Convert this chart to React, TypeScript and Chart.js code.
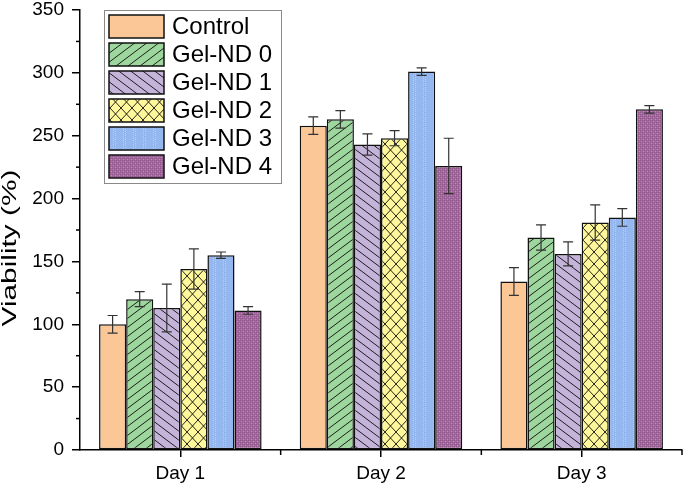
import React, { useEffect, useRef } from "react";
import { Chart, registerables } from "chart.js";

Chart.register(...registerables);

const categories = ["Day 1", "Day 2", "Day 3"];
const seriesNames = ["Control", "Gel-ND 0", "Gel-ND 1", "Gel-ND 2", "Gel-ND 3", "Gel-ND 4"];
const yAxisTitle = "Viability (%)";
const controlValues = [100, 258, 134];
const controlErr = [7, 7, 11];
const gel0Values = [120, 263, 169];
const gel0Err = [6, 7, 10];
const gel1Values = [113, 243, 156];
const gel1Err = [19, 8.5, 9.5];
const gel2Values = [144, 248, 181];
const gel2Err = [16, 6, 14];
const gel3Values = [155, 301, 185];
const gel3Err = [2.5, 3, 7];
const gel4Values = [111, 226, 271];
const gel4Err = [3, 22, 3];

const allValues = [controlValues, gel0Values, gel1Values, gel2Values, gel3Values, gel4Values];
const allErrors = [controlErr, gel0Err, gel1Err, gel2Err, gel3Err, gel4Err];

const FONT = "'Liberation Sans', Arial, sans-serif";

function makePattern(ctx: CanvasRenderingContext2D, w: number, h: number, draw: (g: CanvasRenderingContext2D, w: number, h: number) => void) {
  const c = document.createElement("canvas");
  c.width = w;
  c.height = h;
  const g = c.getContext("2d") as CanvasRenderingContext2D;
  draw(g, w, h);
  return ctx.createPattern(c, "repeat") as CanvasPattern;
}

function buildFills(ctx: CanvasRenderingContext2D) {
  const control = "#FBC797";
  const green = makePattern(ctx, 12, 9, (g, w, h) => {
    g.fillStyle = "#9DD79E";
    g.fillRect(0, 0, w, h);
    g.strokeStyle = "rgba(0,0,0,0.85)";
    g.lineWidth = 1;
    for (let k = -1; k <= 1; k++) {
      g.beginPath();
      g.moveTo(0, h + k * h);
      g.lineTo(w, k * h);
      g.stroke();
    }
  });
  const lav = makePattern(ctx, 12, 9, (g, w, h) => {
    g.fillStyle = "#C5B4DA";
    g.fillRect(0, 0, w, h);
    g.strokeStyle = "rgba(0,0,0,0.85)";
    g.lineWidth = 1;
    for (let k = -1; k <= 1; k++) {
      g.beginPath();
      g.moveTo(0, k * h);
      g.lineTo(w, h + k * h);
      g.stroke();
    }
  });
  const yellow = makePattern(ctx, 11, 12, (g, w, h) => {
    g.fillStyle = "#FEF79C";
    g.fillRect(0, 0, w, h);
    g.strokeStyle = "rgba(0,0,0,0.85)";
    g.lineWidth = 1;
    for (let k = -1; k <= 1; k++) {
      g.beginPath();
      g.moveTo(0, h + k * h);
      g.lineTo(w, k * h);
      g.stroke();
      g.beginPath();
      g.moveTo(0, k * h);
      g.lineTo(w, h + k * h);
      g.stroke();
    }
  });
  const blue = makePattern(ctx, 10, 10, (g, w, h) => {
    g.fillStyle = "#94B7EF";
    g.fillRect(0, 0, w, h);
    g.fillStyle = "#B7CEF6";
    for (let y = 0; y < h; y += 2) {
      g.fillRect(3, y, 1, 1);
      g.fillRect(5, y + 1, 1, 1);
    }
    g.fillStyle = "#86A9E4";
    g.fillRect(4, 2, 1, 1);
    g.fillRect(4, 6, 1, 1);
  });
  const purple = makePattern(ctx, 4, 4, (g, w, h) => {
    g.fillStyle = "#A46A9F";
    g.fillRect(0, 0, w, h);
    g.fillStyle = "#8F5689";
    g.fillRect(0, 0, 1, 1);
    g.fillRect(2, 2, 1, 1);
    g.fillRect(2, 0, 1, 1);
    g.fillRect(0, 2, 1, 1);
    g.fillStyle = "#BC8CB6";
    g.fillRect(1, 1, 1, 1);
    g.fillRect(3, 3, 1, 1);
  });
  return [control, green, lav, yellow, blue, purple];
}

export default function App() {
  const ref = useRef<HTMLCanvasElement | null>(null);

  useEffect(() => {
    const canvas = ref.current;
    if (!canvas) return;
    const ctx = canvas.getContext("2d") as CanvasRenderingContext2D;
    const fills = buildFills(ctx);

    const errorBars = {
      id: "errorBars",
      afterDatasetsDraw(chart: any) {
        const c = chart.ctx;
        const yScale = chart.scales.y;
        c.save();
        c.strokeStyle = "#333";
        c.lineWidth = 1.2;
        allValues.forEach((vals, i) => {
          const meta = chart.getDatasetMeta(i);
          meta.data.forEach((bar: any, j: number) => {
            const x = bar.x;
            const yt = yScale.getPixelForValue(vals[j] + allErrors[i][j]);
            const yb = yScale.getPixelForValue(vals[j] - allErrors[i][j]);
            c.beginPath();
            c.moveTo(x, yt);
            c.lineTo(x, yb);
            c.moveTo(x - 5, yt);
            c.lineTo(x + 5, yt);
            c.moveTo(x - 5, yb);
            c.lineTo(x + 5, yb);
            c.stroke();
          });
        });
        c.restore();
      },
    };

    const minorTicks = {
      id: "minorTicks",
      afterDraw(chart: any) {
        const c = chart.ctx;
        const yScale = chart.scales.y;
        const xScale = chart.scales.x;
        const area = chart.chartArea;
        c.save();
        c.strokeStyle = "#000";
        c.lineWidth = 1.5;
        for (let v = 25; v < 350; v += 50) {
          const y = yScale.getPixelForValue(v);
          c.beginPath();
          c.moveTo(area.left, y);
          c.lineTo(area.left - 4, y);
          c.stroke();
        }
        const n = categories.length;
        for (let k = 1; k <= n; k++) {
          const x = xScale.getPixelForValue(k - 0.5);
          c.beginPath();
          c.moveTo(x, area.bottom);
          c.lineTo(x, area.bottom + 5);
          c.stroke();
        }
        // y-axis title
        c.translate(10, 248);
        c.rotate(-Math.PI / 2);
        c.scale(1.42, 1);
        c.font = `21px ${FONT}`;
        c.fillStyle = "#000";
        c.textAlign = "center";
        c.textBaseline = "middle";
        c.fillText(yAxisTitle, 0, 0);
        c.restore();
      },
    };

    const boxLegend = {
      id: "boxLegend",
      afterDraw(chart: any) {
        const c = chart.ctx;
        c.save();
        c.fillStyle = "#fff";
        c.fillRect(104, 10, 177, 173);
        c.strokeStyle = "#8a8a8a";
        c.lineWidth = 1;
        c.strokeRect(104.5, 10.5, 177, 173);
        c.font = `24px ${FONT}`;
        c.textBaseline = "middle";
        seriesNames.forEach((name, i) => {
          const y = 15 + i * 28;
          c.fillStyle = fills[i] as any;
          c.fillRect(109, y, 55, 23);
          c.strokeStyle = "#111";
          c.lineWidth = 1.5;
          c.strokeRect(109, y, 55, 23);
          c.fillStyle = "#000";
          c.fillText(name, 172, y + 12.5);
        });
        c.restore();
      },
    };

    const chart = new Chart(canvas, {
      type: "bar",
      data: {
        labels: categories,
        datasets: seriesNames.map((name, i) => ({
          label: name,
          data: allValues[i],
          backgroundColor: fills[i] as any,
          borderColor: "#111",
          borderWidth: 1.5,
          borderSkipped: false,
          categoryPercentage: 0.81,
          barPercentage: 1,
        })),
      },
      options: {
        animation: false,
        responsive: false,
        maintainAspectRatio: false,
        layout: { padding: { top: 10, right: 3, left: 0, bottom: 0 } },
        plugins: {
          legend: { display: false },
          tooltip: { enabled: false },
        },
        scales: {
          x: {
            offset: true,
            grid: {
              offset: false,
              drawOnChartArea: false,
              drawTicks: true,
              tickLength: 7,
              color: "#000",
              lineWidth: 1.5,
            },
            border: { display: true, color: "#000", width: 1.5 },
            ticks: {
              color: "#000",
              font: { family: FONT, size: 19 },
              padding: 5,
            },
            afterFit(scale: any) {
              scale.height = 35;
              scale.paddingLeft = 0;
              scale.paddingRight = 0;
            },
          },
          y: {
            min: 0,
            max: 350,
            grid: {
              drawOnChartArea: false,
              drawTicks: true,
              tickLength: 8,
              color: "#000",
              lineWidth: 1.5,
            },
            border: { display: true, color: "#000", width: 1.5 },
            ticks: {
              stepSize: 50,
              color: "#000",
              font: { family: FONT, size: 19 },
              padding: 8,
            },
            afterFit(scale: any) {
              scale.width = 80;
              scale.paddingTop = 0;
              scale.paddingBottom = 0;
            },
          },
        },
      },
      plugins: [errorBars, minorTicks, boxLegend],
    });

    return () => {
      chart.destroy();
    };
  }, []);

  return (
    <div style={{ position: "fixed", left: 0, top: 0, width: 685, height: 485, background: "#fff" }}>
      <canvas ref={ref} width={685} height={485} style={{ display: "block", width: 685, height: 485 }} />
    </div>
  );
}
